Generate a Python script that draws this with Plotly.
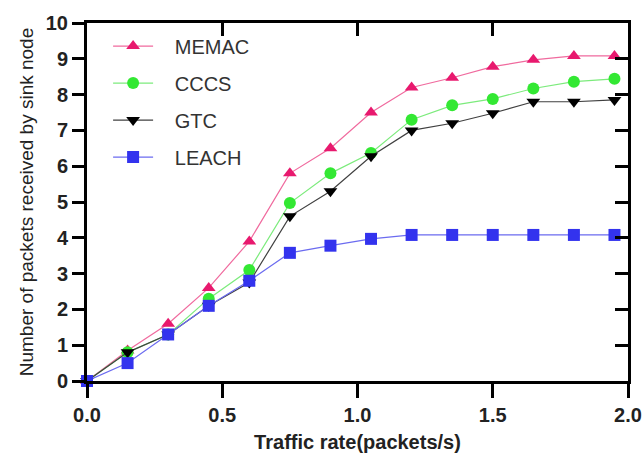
import plotly.graph_objects as go

x_vals = [0, 0.15, 0.3, 0.45, 0.6, 0.75, 0.9, 1.05, 1.2, 1.35, 1.5, 1.65, 1.8, 1.95]
memac = [0, 0.85, 1.6, 2.6, 3.9, 5.8, 6.5, 7.5, 8.2, 8.47, 8.78, 8.97, 9.08, 9.08]
cccs = [0, 0.8, 1.3, 2.3, 3.1, 4.97, 5.8, 6.37, 7.3, 7.7, 7.88, 8.17, 8.36, 8.44]
gtc = [0, 0.8, 1.3, 2.1, 2.75, 4.6, 5.3, 6.28, 7.0, 7.2, 7.48, 7.8, 7.8, 7.85]
leach = [0, 0.5, 1.3, 2.1, 2.8, 3.58, 3.78, 3.97, 4.08, 4.08, 4.08, 4.08, 4.08, 4.08]

x_ticks = [0, 0.5, 1.0, 1.5, 2.0]
x_ticklabels = ["0.0", "0.5", "1.0", "1.5", "2.0"]
y_ticks = list(range(0, 11))

series = [
    ("MEMAC", memac, "#E8196E", "#F06A9E", "triangle-up"),
    ("CCCS", cccs, "#33E833", "#7CEB7C", "circle"),
    ("GTC", gtc, "#000000", "#404040", "triangle-down"),
    ("LEACH", leach, "#3333EE", "#6B6BF0", "square"),
]

pad = "\u00a0\u00a0\u00a0"

fig = go.Figure()
for i, (name, vals, mc, lc, sym) in enumerate(series):
    fig.add_trace(go.Scatter(
        x=x_vals, y=vals, name=pad + name, mode="lines+markers",
        line=dict(color=lc, width=1.2),
        marker=dict(symbol=sym, size=12, color=mc, line=dict(width=0)),
        legendgroup=name,
        cliponaxis=False,
    ))

font_family = "Liberation Sans, Arial, sans-serif"

fig.update_layout(
    width=642, height=459,
    margin=dict(l=87, r=14, t=21, b=78),
    plot_bgcolor="white", paper_bgcolor="white",
    font=dict(family=font_family, color="#222222"),
    showlegend=True,
    legend=dict(
        x=0.039, y=0.99, xanchor="left", yanchor="top",
        bgcolor="rgba(0,0,0,0)", font=dict(size=20, color="#333333"),
        tracegroupgap=8, traceorder="grouped", itemwidth=40,
    ),
    xaxis=dict(
        range=[0, 2.0], tickvals=x_ticks, ticktext=x_ticklabels,
        showgrid=False, zeroline=False, automargin=False,
        showline=True, linecolor="black", linewidth=3,
        ticks="outside", ticklen=14, tickwidth=3, tickcolor="black",
        tickfont=dict(size=20, family=font_family, color="#222222", weight="bold"),
        title=dict(text="<b>Traffic rate(packets/s)</b>", font=dict(size=20, color="#222222"), standoff=10),
    ),
    yaxis=dict(
        range=[0, 10], tickvals=y_ticks,
        showgrid=False, zeroline=False,
        showline=True, linecolor="black", linewidth=3,
        ticks="outside", ticklen=12, tickwidth=3, tickcolor="black",
        tickfont=dict(size=20, family=font_family, color="#222222", weight="bold"),
        title=dict(text="Number of packets received by sink node", font=dict(size=19, color="#222222"), standoff=8),
    ),
    xaxis2=dict(
        overlaying="x", side="top", matches="x", range=[0, 2.0], tickvals=x_ticks,
        showticklabels=False, showgrid=False, zeroline=False, automargin=False,
        showline=True, linecolor="black", linewidth=3,
        ticks="inside", ticklen=13, tickwidth=3, tickcolor="black",
    ),
    yaxis2=dict(
        overlaying="y", side="right", range=[0, 10], tickvals=y_ticks,
        showticklabels=False, showgrid=False, zeroline=False, automargin=False,
        showline=True, linecolor="black", linewidth=3,
        ticks="inside", ticklen=13, tickwidth=3, tickcolor="black",
    ),
)

# invisible trace to activate the mirrored axes
fig.add_trace(go.Scatter(x=[0], y=[0], xaxis="x2", yaxis="y2", mode="markers",
                         marker=dict(opacity=0), showlegend=False, hoverinfo="skip"))

fig.write_html("out.html")
